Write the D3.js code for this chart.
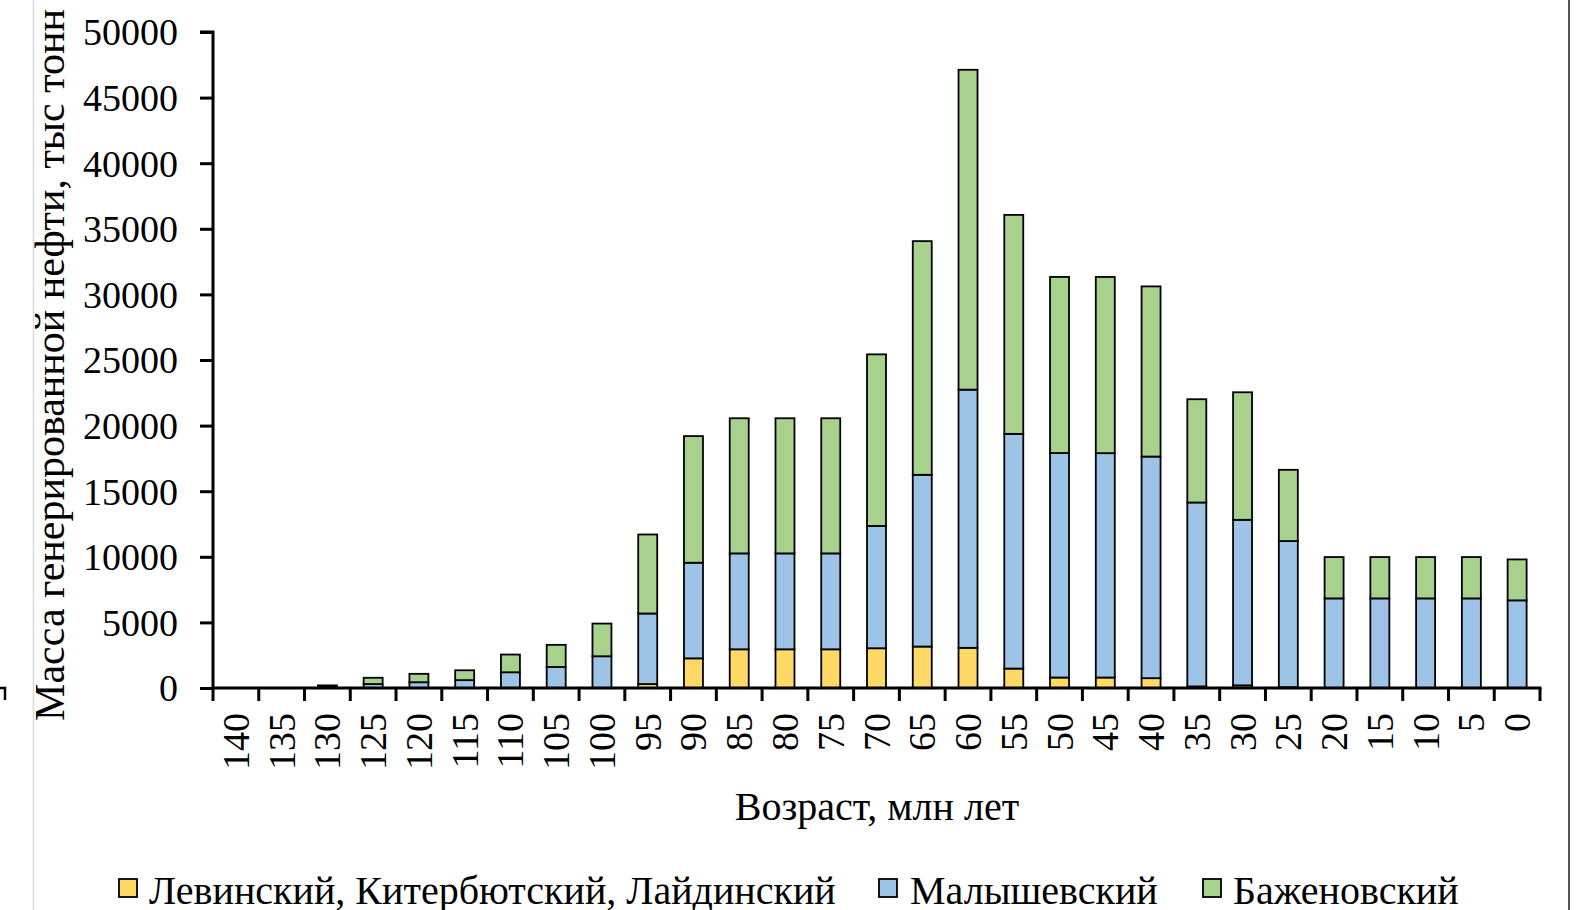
<!DOCTYPE html>
<html>
<head>
<meta charset="utf-8">
<script src="https://cdn.jsdelivr.net/npm/d3@7"></script>
<style>
  html, body { margin: 0; padding: 0; background: #fff; }
  svg { display: block; }
  text { font-family: "Liberation Serif", "Times New Roman", serif; fill: #000; }
</style>
</head>
<body>
<svg id="chart" width="1576" height="910"></svg>
<script>
// ---- data ----
const categories = ["140","135","130","125","120","115","110","105","100","95","90","85","80","75","70","65","60","55","50","45","40","35","30","25","20","15","10","5","0"];
const levinsky  = [0,0,0,0,0,0,0,0,0,300,2260,2950,2950,2950,3030,3160,3060,1480,800,800,750,120,200,60,0,0,0,0,0];
const malyshev  = [0,0,80,300,440,600,1200,1600,2420,5380,7290,7310,7310,7310,9320,13090,19680,17890,17110,17100,16890,14020,12620,11140,6830,6830,6830,6830,6680];
const bazhenov  = [0,0,120,480,640,750,1350,1690,2490,6020,9650,10300,10300,10300,13080,17810,24380,16690,13420,13430,12970,7870,9720,5430,3150,3150,3150,3150,3120];
const seriesNames = ["Левинский, Китербютский, Лайдинский", "Малышевский", "Баженовский"];
const seriesColors = ["#FFD966", "#9DC3E6", "#A9D18E"];
const yTicks = [0,5000,10000,15000,20000,25000,30000,35000,40000,45000,50000];
const yTitle = "Масса генерированной нефти, тыс тонн";
const xTitle = "Возраст, млн лет";

// ---- layout ----
const svg = d3.select("#chart");
const mLeft = 213, mRight = 1540, mTop = 32, mBottom = 688;
const pad = 0.585;

const x = d3.scaleBand().domain(categories).range([mLeft, mRight])
  .paddingInner(pad).paddingOuter(pad / 2);
const y = d3.scaleLinear().domain([0, 50000]).range([mBottom, mTop]);

// frame artifacts
svg.append("line").attr("x1", 33.5).attr("x2", 33.5).attr("y1", 0).attr("y2", 910)
  .attr("stroke", "#d9d9d9").attr("stroke-width", 1.5);
svg.append("line").attr("x1", 1569).attr("x2", 1569).attr("y1", 0).attr("y2", 910)
  .attr("stroke", "#555").attr("stroke-width", 2);
svg.append("path").attr("d", "M0,688 H5 V700").attr("fill", "none")
  .attr("stroke", "#000").attr("stroke-width", 2.5);

// stacked data
const rows = categories.map((c, i) => ({ cat: c, s0: levinsky[i], s1: malyshev[i], s2: bazhenov[i] }));
const stack = d3.stack().keys(["s0", "s1", "s2"])(rows);

const g = svg.append("g");
stack.forEach((layer, li) => {
  g.append("g").selectAll("rect").data(layer.filter(d => d[1] - d[0] > 0)).join("rect")
    .attr("x", d => x(d.data.cat))
    .attr("width", x.bandwidth())
    .attr("y", d => y(d[1]))
    .attr("height", d => y(d[0]) - y(d[1]))
    .attr("fill", seriesColors[li])
    .attr("stroke", "#000")
    .attr("stroke-width", 1.8);
});

// y axis
const yAxis = d3.axisLeft(y).tickValues(yTicks).tickSize(13).tickPadding(22).tickFormat(d3.format("d"));
const gy = svg.append("g").attr("transform", `translate(${mLeft},0)`).call(yAxis);
gy.select(".domain").attr("stroke", "#000").attr("stroke-width", 3).attr("d", `M-13,${mTop}H0V${mBottom}`);
gy.selectAll(".tick line").attr("stroke", "#000").attr("stroke-width", 3);
gy.selectAll(".tick text").style("font-size", "38px").style("font-family", "Liberation Serif").attr("dy", "0.34em");

// x axis with boundary ticks
const step = x.step();
const gx = svg.append("g").attr("transform", `translate(0,${mBottom})`);
gx.append("line").attr("x1", mLeft - 1.5).attr("x2", mRight + 1.5).attr("y1", 0).attr("y2", 0)
  .attr("stroke", "#000").attr("stroke-width", 3);
d3.range(categories.length + 1).forEach(i => {
  const bx = mLeft + i * step;
  gx.append("line").attr("x1", bx).attr("x2", bx).attr("y1", 0).attr("y2", 13)
    .attr("stroke", "#000").attr("stroke-width", 3);
});
gx.selectAll("text.xl").data(categories).join("text").attr("class", "xl")
  .attr("transform", d => `translate(${x(d) + x.bandwidth() / 2 + 13},25) rotate(-90)`)
  .attr("text-anchor", "end")
  .style("font-size", "38px")
  .text(d => d);

// axis titles
svg.append("text")
  .attr("transform", `translate(64,365) rotate(-90)`)
  .attr("text-anchor", "middle")
  .style("font-size", "42px")
  .text(yTitle);
svg.append("text")
  .attr("x", 877).attr("y", 820)
  .attr("text-anchor", "middle")
  .style("font-size", "40px")
  .text(xTitle);

// legend
const legendItems = [
  { name: seriesNames[0], color: seriesColors[0], sx: 119, tx: 149 },
  { name: seriesNames[1], color: seriesColors[1], sx: 879, tx: 910 },
  { name: seriesNames[2], color: seriesColors[2], sx: 1203, tx: 1233 }
];
const lg = svg.append("g");
legendItems.forEach(it => {
  lg.append("rect").attr("x", it.sx).attr("y", 879).attr("width", 18).attr("height", 18)
    .attr("fill", it.color).attr("stroke", "#000").attr("stroke-width", 1.8);
  lg.append("text").attr("x", it.tx).attr("y", 904).style("font-size", "40px").text(it.name);
});
</script>
</body>
</html>
